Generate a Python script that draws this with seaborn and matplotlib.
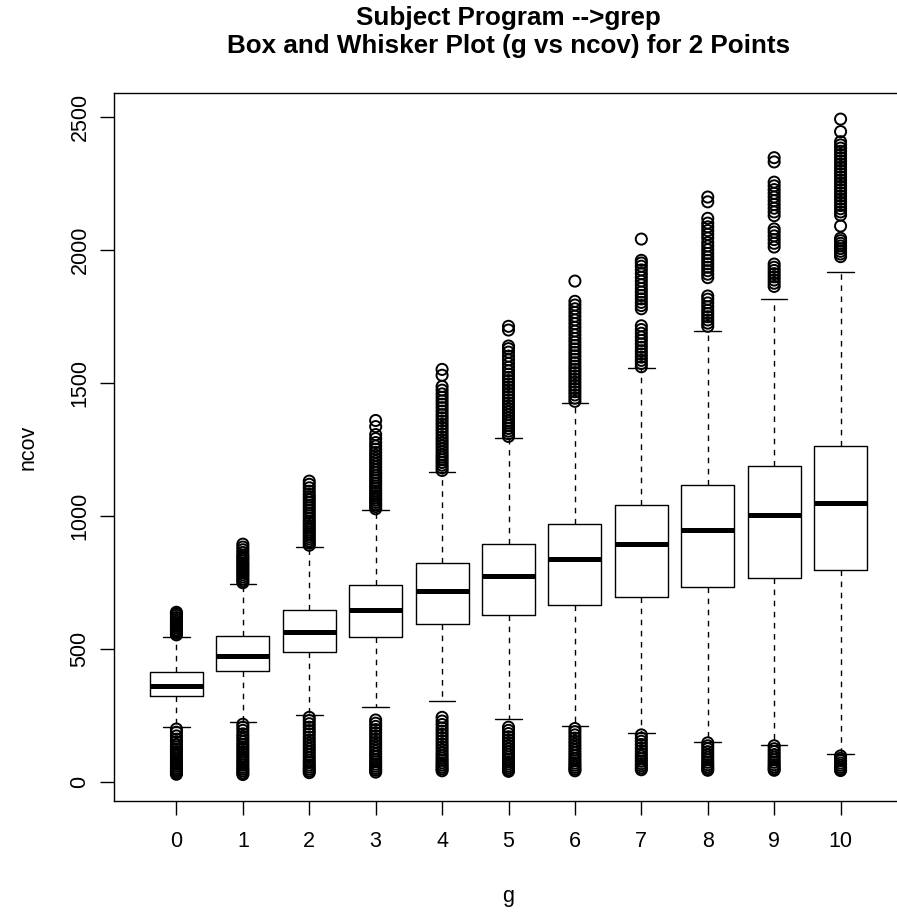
import matplotlib
matplotlib.use("Agg")
import matplotlib.pyplot as plt
import pandas as pd
import seaborn as sns

# ---------------- data ----------------
groups = [0, 1, 2, 3, 4, 5, 6, 7, 8, 9, 10]
tick_labels = ["0", "1", "2", "3", "4", "5", "6", "7", "8", "9", "10"]

q1_vals = [323, 416, 487, 545, 593, 627, 664, 695, 731, 765, 797]
median_vals = [361, 472, 563, 644, 717, 775, 839, 893, 947, 1001, 1049]
q3_vals = [414, 547, 646, 738, 821, 894, 968, 1039, 1116, 1187, 1263]
whisker_low = [207, 226, 252, 280, 305, 235, 208, 182, 151, 139, 103]
whisker_high = [545, 742, 883, 1020, 1165, 1293, 1425, 1556, 1695, 1816, 1917]

upper_outliers = [
    [552, 558, 565, 571, 578, 584, 590, 597, 603, 610, 617, 625, 632, 637],
    [748, 755, 762, 770, 778, 786, 793, 800, 808, 815, 822, 830, 838, 845,
     852, 862, 872, 882, 893],
    [889, 897, 905, 913, 921, 930, 938, 946, 955, 963, 972, 980, 990, 1000,
     1010, 1020, 1030, 1040, 1050, 1060, 1070, 1080, 1092, 1105, 1118, 1130],
    [1026, 1034, 1042, 1050, 1058, 1066, 1075, 1084, 1093, 1102, 1112, 1122,
     1132, 1142, 1152, 1162, 1172, 1183, 1194, 1205, 1216, 1227, 1238, 1250,
     1262, 1275, 1290, 1305, 1335, 1358],
    [1170, 1180, 1190, 1200, 1210, 1220, 1230, 1241, 1252, 1263, 1274, 1285,
     1296, 1308, 1320, 1332, 1344, 1356, 1368, 1380, 1393, 1406, 1419, 1432,
     1445, 1458, 1472, 1486, 1528, 1550],
    [1298, 1308, 1318, 1328, 1338, 1348, 1358, 1369, 1380, 1391, 1402, 1413,
     1424, 1436, 1448, 1460, 1472, 1484, 1496, 1508, 1520, 1532, 1545, 1558,
     1572, 1586, 1600, 1615, 1628, 1638, 1698, 1712],
    [1430, 1442, 1454, 1466, 1478, 1490, 1502, 1514, 1526, 1538, 1550, 1562,
     1575, 1588, 1601, 1614, 1627, 1640, 1653, 1666, 1680, 1694, 1708, 1722,
     1736, 1750, 1764, 1778, 1792, 1806, 1882],
    [1560, 1572, 1584, 1596, 1608, 1620, 1633, 1646, 1659, 1672, 1686, 1700,
     1714, 1778, 1790, 1802, 1815, 1828, 1841, 1854, 1868, 1882, 1896, 1910,
     1924, 1938, 1950, 1960, 2040],
    [1712, 1724, 1736, 1748, 1760, 1772, 1786, 1800, 1814, 1826, 1895, 1908,
     1921, 1934, 1947, 1960, 1973, 1986, 2000, 2014, 2027, 2044, 2058, 2072,
     2086, 2100, 2118, 2180, 2198],
    [1862, 1874, 1886, 1898, 1910, 1922, 1934, 1946, 2010, 2024, 2038, 2052,
     2066, 2078, 2128, 2142, 2156, 2170, 2184, 2198, 2212, 2226, 2240, 2254,
     2330, 2346],
    [1974, 1984, 1994, 2004, 2014, 2024, 2034, 2043, 2089, 2130, 2142, 2154,
     2166, 2178, 2190, 2202, 2214, 2226, 2238, 2250, 2262, 2274, 2286, 2298,
     2310, 2322, 2334, 2346, 2358, 2370, 2382, 2394, 2406, 2444, 2491],
]

lower_outliers = [
    [198, 186, 172, 160, 150, 140, 131, 122, 113, 104, 96, 88, 80, 72, 65,
     58, 51, 45, 39, 33, 28],
    [216, 205, 193, 180, 170, 160, 150, 140, 131, 122, 113, 104, 95, 86, 78,
     70, 62, 54, 47, 40, 33, 27],
    [242, 230, 218, 205, 192, 180, 168, 156, 145, 134, 123, 112, 101, 91, 81,
     72, 63, 55, 47, 40, 34],
    [232, 220, 208, 196, 184, 172, 160, 148, 137, 126, 115, 104, 94, 84, 75,
     66, 58, 50, 43, 36],
    [242, 228, 215, 202, 190, 178, 166, 154, 142, 131, 120, 109, 99, 89, 80,
     71, 63, 55, 48, 41],
    [205, 193, 181, 169, 157, 146, 135, 124, 113, 103, 93, 84, 75, 67, 59,
     52, 45, 39],
    [200, 188, 176, 164, 152, 141, 130, 119, 108, 98, 88, 79, 70, 62, 54,
     47, 41],
    [176, 164, 152, 140, 128, 117, 106, 96, 86, 77, 68, 60, 52, 45],
    [146, 135, 124, 113, 102, 92, 82, 73, 64, 56, 49, 43],
    [135, 124, 113, 102, 92, 82, 73, 64, 56, 49, 43],
    [97, 88, 79, 70, 62, 54, 47, 42],
]

title_line1 = "Subject Program -->grep"
title_line2 = "Box and Whisker Plot (g vs ncov) for 2 Points"
x_label = "g"
y_label = "ncov"
y_ticks = [0, 500, 1000, 1500, 2000, 2500]

# ---------------- styling ----------------
sns.set_theme(style="white")
plt.rcParams['font.family'] = ['Liberation Sans', 'DejaVu Sans']

W, H = 897, 915
fig = plt.figure(figsize=(W / 100, H / 100), dpi=100)
fig.patch.set_facecolor("white")
left_px, right_px, top_px, bottom_px = 114, 903, 93.3, 800.7
ax = fig.add_axes([left_px / W, 1 - bottom_px / H,
                   (right_px - left_px) / W, (bottom_px - top_px) / H])
ax.set_facecolor("white")

# outliers through seaborn
rows = []
for g, hi, lo in zip(groups, upper_outliers, lower_outliers):
    for v in hi + lo:
        rows.append((g, v))
df = pd.DataFrame(rows, columns=["g", "ncov"])
sns.stripplot(data=df, x="g", y="ncov", order=groups, jitter=False, size=8,
              color="black", linewidth=1.4, edgecolor="black", ax=ax, zorder=3)
for coll in ax.collections:
    coll.set_facecolor("none")
    coll.set_edgecolor("black")
    coll.set_linewidth(1.4)

# boxes from summary statistics
stats = []
for lo, a, m, b, hi in zip(whisker_low, q1_vals, median_vals, q3_vals, whisker_high):
    stats.append(dict(whislo=lo, q1=a, med=m, q3=b, whishi=hi, fliers=[]))
ax.bxp(stats, positions=groups, widths=0.8, capwidths=0.4, showfliers=False,
       manage_ticks=False,
       boxprops=dict(color="black", linewidth=1.0),
       whiskerprops=dict(color="black", linewidth=1.0, linestyle=(0, (4, 4))),
       capprops=dict(color="black", linewidth=1.0),
       medianprops=dict(color="black", linewidth=3.6, solid_capstyle="butt"))

ax.set_xlim(-0.94, 10.94)
ax.set_ylim(-71.4, 2588)
ax.set_xticks(groups)
ax.set_xticklabels(tick_labels)
ax.set_yticks(y_ticks)
ax.set_yticklabels([str(t) for t in y_ticks], rotation=90, va="center")
ax.grid(False)
for sp in ax.spines.values():
    sp.set_visible(True)
    sp.set_color("black")
    sp.set_linewidth(1.0)

ax.tick_params(axis="both", which="major", direction="out", length=10, width=1.0,
               color="black", labelcolor="black", labelsize=15.5,
               bottom=True, left=True, top=False, right=False)
ax.tick_params(axis="x", pad=12)
ax.tick_params(axis="y", pad=7)

ax.set_xlabel(x_label, fontsize=15.5, color="black", labelpad=24)
ax.set_ylabel(y_label, fontsize=15.5, color="black", labelpad=22)

cx = (left_px + right_px) / 2 / W
fig.text(cx, 1 - 18 / H, title_line1, ha="center", va="center",
         fontsize=18.7, fontweight="bold", color="black")
fig.text(cx, 1 - 46 / H, title_line2, ha="center", va="center",
         fontsize=18.7, fontweight="bold", color="black")

fig.savefig("out.png", dpi=100, facecolor="white")
